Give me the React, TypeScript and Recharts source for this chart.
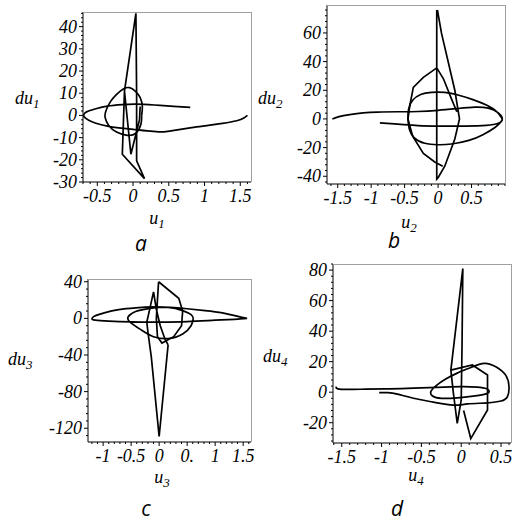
import React from "react";
import { LineChart, Line, XAxis, YAxis } from "recharts";

type Pt = [number, number];

// ---- panel a : u1 / du1 ----
const aTail: Pt[] = [
  [1.6, 0], [1.55, -1.2], [1.45, -2.4], [1.25, -3.6], [1.03, -4.6], [0.82, -5.5],
  [0.62, -6.5], [0.46, -7.3], [0.36, -7.4], [0.2, -7.0], [0, -6.3], [-0.2, -5.6],
  [-0.36, -4.8], [-0.52, -3.5], [-0.62, -2.2], [-0.68, -0.8], [-0.69, 0.3],
  [-0.65, 1.6], [-0.52, 3.0], [-0.36, 4.2], [-0.15, 4.9], [0.05, 5.1], [0.3, 4.7],
  [0.57, 4.1], [0.8, 3.6],
];
const aLoop: Pt[] = [
  [0.12, 0], [0.13, 4], [0.1, 8], [0.03, 11], [-0.05, 12.5], [-0.13, 12], [-0.23, 9.5],
  [-0.32, 6], [-0.38, 2], [-0.39, -1], [-0.34, -4.5], [-0.23, -7.5], [-0.08, -9],
  [0.04, -8], [0.11, -4], [0.12, 0],
];
const aSpike: Pt[] = [
  [0.04, 46], [-0.12, 11], [-0.15, -17.5], [0.16, -28.5], [0.05, -20.5], [0.05, 10], [0.04, 46],
];
const aVee: Pt[] = [[-0.12, 11], [-0.03, -17.5], [0.09, -2], [0.1, 4]];

// ---- panel b : u2 / du2 ----
const bTail: Pt[] = [
  [-1.58, 0], [-1.48, 1.6], [-1.32, 3.0], [-1.12, 4.2], [-0.9, 4.8], [-0.6, 5.0],
  [-0.3, 5.2], [0, 6.0], [0.3, 7.3], [0.55, 8.2], [0.75, 7.5], [0.9, 4.2], [0.96, 0],
  [0.9, -3], [0.72, -4.5], [0.4, -5], [0, -5], [-0.3, -4.6], [-0.6, -3.6], [-0.87, -2.8],
];
const bLoop: Pt[] = [
  [0.96, 0], [0.88, 5], [0.73, 9.5], [0.52, 13.5], [0.31, 16.5], [0.1, 18.5], [-0.1, 18.5],
  [-0.26, 17], [-0.38, 13], [-0.44, 7], [-0.45, 0], [-0.43, -7], [-0.36, -13], [-0.2, -17],
  [0, -18], [0.2, -17.5], [0.46, -15], [0.67, -11], [0.85, -6], [0.94, -2], [0.96, 0],
];
const bSpike: Pt[] = [
  [-0.02, 76], [-0.02, -42], [0.0, -41], [0.1, -33], [0.25, -14], [0.32, 0], [0.25, 20],
  [0.05, 60], [-0.01, 76],
];
const bKite: Pt[] = [
  [0.07, -33], [-0.05, -30], [-0.22, -24], [-0.38, -12], [-0.45, 0], [-0.42, 10],
  [-0.37, 22], [-0.22, 29], [-0.02, 35.6], [0.08, 28], [0.2, 14], [0.28, 5],
];

// ---- panel c : u3 / du3 ----
const cTail: Pt[] = [
  [1.57, 0], [1.35, 3], [1.13, 6], [0.82, 8.5], [0.5, 10.5], [0.2, 12], [-0.1, 12.5],
  [-0.42, 11.5], [-0.72, 9.5], [-0.98, 6], [-1.15, 2.5], [-1.2, -0.5], [-1.14, -2],
  [-0.9, -3], [-0.5, -3.8], [0, -4], [0.5, -3.5], [1.0, -2], [1.35, -1], [1.57, 0],
];
const cLoop: Pt[] = [
  [0.61, 0], [0.57, -8], [0.42, -17], [0.16, -22], [-0.1, -20], [-0.31, -13], [-0.52, -4],
  [-0.55, 2], [-0.42, 7.5], [-0.16, 11], [0.16, 12], [0.42, 8.5], [0.57, 4], [0.61, 0],
];
const cKite: Pt[] = [
  [-0.01, 40], [0.35, 22], [0.42, 8], [0.4, -8], [0.26, -20], [0.05, -27], [-0.03, -20],
  [-0.05, 0], [-0.03, 20], [-0.01, 40],
];
const cSpike: Pt[] = [
  [0.16, -29], [0, -129], [-0.14, -42], [-0.2, -15], [-0.22, -4], [-0.15, 15], [-0.1, 29],
  [-0.05, 10], [0.02, -8], [0.1, -22], [0.16, -29],
];

// ---- panel d : u4 / du4 ----
const dTail: Pt[] = [
  [-1.57, 3.6], [-1.51, 1.9], [-1.2, 2.0], [-0.9, 2.2], [-0.6, 2.6], [-0.3, 3.2], [0, 3.6],
  [0.2, 3.3], [0.32, 2.2], [0.35, 0.3], [0.3, -1.3], [0.15, -2.6], [-0.05, -3.7],
  [-0.25, -4.0], [-0.36, -2.5], [-0.38, 0.5], [-0.31, 4.5], [-0.2, 8.5], [-0.05, 12.5],
  [0.12, 16.2], [0.29, 18.9], [0.44, 16.5], [0.56, 11], [0.6, 3.6], [0.58, -3], [0.5, -5.8],
  [0.33, -7], [0.08, -7.7], [-0.1, -8.5], [-0.35, -6.5], [-0.6, -4.0], [-0.8, -1.3],
  [-0.92, -0.3], [-1.03, -0.3],
];
const dSpike: Pt[] = [
  [0.02, 81], [-0.13, 14.5], [-0.1, 0], [-0.05, -20.4], [0, -5], [0.01, 30], [0.02, 81],
];
const dKite: Pt[] = [
  [-0.13, 14.5], [0.14, 17.8], [0.33, 11.3], [0.33, -11.7], [0.12, -30.4], [0.03, -12],
];

// ---- ticks ----
const aXTicks = [-0.5, 0, 0.5, 1, 1.5];
const aXLabels = ["-0.5", "0", "0.5", "1", "1.5"];
const aYTicks = [-30, -20, -10, 0, 10, 20, 30, 40];
const bXTicks = [-1.5, -1, -0.5, 0, 0.5];
const bXLabels = ["-1.5", "-1", "-0.5", "0", "0.5"];
const bYTicks = [-40, -20, 0, 20, 40, 60];
const cXTicks = [-1, -0.5, 0, 0.5, 1, 1.5];
const cXLabels = ["-1", "-0.5", "0", "0.", "1", "1.5"];
const cYTicks = [-120, -80, -40, 0, 40];
const dXTicks = [-1.5, -1, -0.5, 0, 0.5];
const dXLabels = ["-1.5", "-1", "-0.5", "0", "0.5"];
const dYTicks = [-20, 0, 20, 40, 60, 80];

const serifText: React.CSSProperties = { fontFamily: "Liberation Serif", fontStyle: "italic", fontSize: 18 };
const letterText: React.CSSProperties = { fontFamily: "Open Sans", fontStyle: "italic", fontSize: 21 };
const YW = 60;
const XH = 34;
const MT = 14;
const MR = 14;

type Row = { u: number; du: number | null };

function rows(segs: Pt[][]): Row[] {
  const out: Row[] = [];
  segs.forEach((s, i) => {
    if (i > 0) out.push({ u: s[0][0], du: null });
    s.forEach(([u, du]) => out.push({ u, du }));
  });
  return out;
}

function steps(lo: number, hi: number, step: number) {
  const start = Math.ceil(lo / step - 1e-6);
  const end = Math.floor(hi / step + 1e-6);
  const out: number[] = [];
  for (let i = start; i <= end; i++) out.push(+(i * step).toFixed(4));
  return out;
}

const near = (list: number[], v: number) => list.findIndex((t) => Math.abs(t - v) < 1e-6);

interface PanelProps {
  box: { x: number; y: number; w: number; h: number };
  xDomain: [number, number];
  yDomain: [number, number];
  xMajor: number[];
  xLabels: string[];
  xMinor: number;
  yMajor: number[];
  yMinor: number;
  smooth: Pt[][];
  sharp: Pt[][];
}

function Panel(p: PanelProps) {
  const w = YW + p.box.w + MR;
  const h = MT + p.box.h + XH;
  const xTicks = steps(p.xDomain[0], p.xDomain[1], p.xMinor);
  const yTicks = steps(p.yDomain[0], p.yDomain[1], p.yMinor);

  const xTick = (t: any) => {
    const i = near(p.xMajor, t.payload.value);
    const len = i >= 0 ? 4 : 2;
    return (
      <g>
        <line x1={t.x} x2={t.x} y1={t.y} y2={t.y + len} stroke="#000" strokeWidth={1} />
        {i >= 0 && (
          <text x={t.x} y={t.y + 20} textAnchor="middle" style={serifText} fill="#000">
            {p.xLabels[i]}
          </text>
        )}
      </g>
    );
  };
  const yTick = (t: any) => {
    const i = near(p.yMajor, t.payload.value);
    const len = i >= 0 ? 4 : 2;
    return (
      <g>
        <line x1={t.x} x2={t.x - len} y1={t.y} y2={t.y} stroke="#000" strokeWidth={1} />
        {i >= 0 && (
          <text x={t.x - 6} y={t.y + 6} textAnchor="end" style={serifText} fill="#000">
            {String(p.yMajor[i])}
          </text>
        )}
      </g>
    );
  };

  return (
    <div style={{ position: "absolute", left: p.box.x - YW, top: p.box.y - MT }}>
      <LineChart width={w} height={h} margin={{ top: MT, right: MR, bottom: 0, left: 0 }}>
        <XAxis
          type="number"
          dataKey="u"
          domain={p.xDomain}
          allowDataOverflow
          ticks={xTicks}
          interval={0}
          tickSize={0}
          tickMargin={0}
          tickLine={false}
          axisLine={{ stroke: "#000" }}
          height={XH}
          tick={xTick}
        />
        <YAxis
          type="number"
          domain={p.yDomain}
          allowDataOverflow
          ticks={yTicks}
          interval={0}
          tickSize={0}
          tickMargin={0}
          tickLine={false}
          axisLine={{ stroke: "#000" }}
          width={YW}
          tick={yTick}
        />
        <Line data={rows(p.smooth)} dataKey="du" type="natural" stroke="#000" strokeWidth={1.7} dot={false} isAnimationActive={false} />
        <Line data={rows(p.sharp)} dataKey="du" type="linear" stroke="#000" strokeWidth={1.7} dot={false} isAnimationActive={false} />
      </LineChart>
      <div
        style={{
          position: "absolute",
          left: YW,
          top: MT,
          width: p.box.w + 1,
          height: p.box.h,
          borderTop: "1px solid #a0a0a0",
          borderRight: "1px solid #a0a0a0",
          boxSizing: "border-box",
          pointerEvents: "none",
        }}
      />
    </div>
  );
}

function Title({ x, y, base, sub, anchor }: { x: number; y: number; base: string; sub: string; anchor: "start" | "middle" }) {
  return (
    <text x={x} y={y} textAnchor={anchor} style={serifText} fill="#000">
      {base}
      <tspan dy={4} style={{ fontSize: 13 }}>{sub}</tspan>
    </text>
  );
}

function Letter({ x, y, t }: { x: number; y: number; t: string }) {
  return (
    <text x={x} y={y} textAnchor="middle" style={letterText} fill="#000">
      {t}
    </text>
  );
}

export default function App() {
  return (
    <div style={{ position: "absolute", left: 0, top: 0, width: 513, height: 521, background: "#fff", overflow: "hidden" }}>
      <Panel
        box={{ x: 83, y: 12, w: 168, h: 170 }}
        xDomain={[-0.7, 1.65]}
        yDomain={[-30, 46.6]}
        xMajor={aXTicks}
        xLabels={aXLabels}
        xMinor={0.1}
        yMajor={aYTicks}
        yMinor={2}
        smooth={[aTail, aLoop]}
        sharp={[aSpike, aVee]}
      />
      <Panel
        box={{ x: 327, y: 5, w: 178, h: 179 }}
        xDomain={[-1.66, 1.0]}
        yDomain={[-45.4, 79.5]}
        xMajor={bXTicks}
        xLabels={bXLabels}
        xMinor={0.1}
        yMajor={bYTicks}
        yMinor={4}
        smooth={[bTail, bLoop]}
        sharp={[bSpike, bKite]}
      />
      <Panel
        box={{ x: 88, y: 279, w: 163, h: 163 }}
        xDomain={[-1.27, 1.64]}
        yDomain={[-135, 43]}
        xMajor={cXTicks}
        xLabels={cXLabels}
        xMinor={0.1}
        yMajor={cYTicks}
        yMinor={8}
        smooth={[cTail, cLoop]}
        sharp={[cKite, cSpike]}
      />
      <Panel
        box={{ x: 333, y: 264, w: 178, h: 179 }}
        xDomain={[-1.61, 0.625]}
        yDomain={[-33.3, 84]}
        xMajor={dXTicks}
        xLabels={dXLabels}
        xMinor={0.1}
        yMajor={dYTicks}
        yMinor={4}
        smooth={[dTail]}
        sharp={[dSpike, dKite]}
      />
      <svg width={513} height={521} style={{ position: "absolute", left: 0, top: 0, pointerEvents: "none" }}>
        <Title x={15} y={104} base="du" sub="1" anchor="start" />
        <Title x={157} y={224} base="u" sub="1" anchor="middle" />
        <Title x={258} y={104} base="du" sub="2" anchor="start" />
        <Title x={409} y={228} base="u" sub="2" anchor="middle" />
        <Title x={8} y={365} base="du" sub="3" anchor="start" />
        <Title x={162} y={483} base="u" sub="3" anchor="middle" />
        <Title x={263} y={362} base="du" sub="4" anchor="start" />
        <Title x={416} y={481} base="u" sub="4" anchor="middle" />
        <Letter x={141} y={251} t="a" />
        <Letter x={394} y={248} t="b" />
        <Letter x={146} y={516} t="c" />
        <Letter x={397} y={516} t="d" />
      </svg>
    </div>
  );
}
